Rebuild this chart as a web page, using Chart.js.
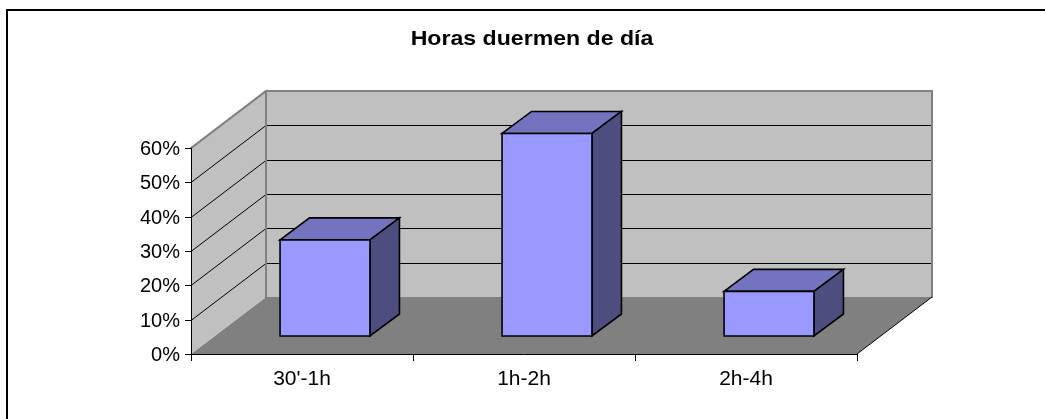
<!DOCTYPE html>
<html>
<head>
<meta charset="utf-8">
<script src="https://cdn.jsdelivr.net/npm/chart.js@4/dist/chart.umd.min.js"></script>
<style>
  html, body { margin: 0; padding: 0; background: #fff; }
  canvas { display: block; }
</style>
</head>
<body>
<canvas id="chart" width="1045" height="419"></canvas>
<script>
// data
const titleText = 'Horas duermen de día';
const categories = ["30'-1h", '1h-2h', '2h-4h'];
const values = [0.28, 0.59, 0.13];
const yTickValues = [0, 0.1, 0.2, 0.3, 0.4, 0.5, 0.6];

// 3D look (oblique projection offsets)
const WALL_DX = 75, WALL_DY = 57;   // depth of the floor / walls
const BAR_OX = 23, BAR_OY = 18;     // front face of bars sits this far back
const BAR_DX = 29.5, BAR_DY = 22;   // depth of each bar

const FONT = '"Liberation Sans", Arial, sans-serif';

function poly(ctx, pts, fill, stroke, lw) {
    ctx.beginPath();
    ctx.moveTo(pts[0][0], pts[0][1]);
    for (let i = 1; i < pts.length; i++) ctx.lineTo(pts[i][0], pts[i][1]);
    ctx.closePath();
    if (fill) { ctx.fillStyle = fill; ctx.fill(); }
    if (stroke) { ctx.strokeStyle = stroke; ctx.lineWidth = lw || 1; ctx.lineJoin = 'miter'; ctx.stroke(); }
}

function line(ctx, x1, y1, x2, y2, color, lw) {
    ctx.beginPath();
    ctx.moveTo(x1, y1);
    ctx.lineTo(x2, y2);
    ctx.strokeStyle = color;
    ctx.lineWidth = lw || 1;
    ctx.stroke();
}

function text(ctx, str, x, y, align, font, sx) {
    ctx.save();
    ctx.translate(x, y);
    ctx.scale(sx || 1, 1);
    ctx.font = font;
    ctx.fillStyle = '#000';
    ctx.textAlign = align;
    ctx.textBaseline = 'middle';
    ctx.fillText(str, 0, 0);
    ctx.restore();
}

const box3d = {
    id: 'box3d',
    beforeDatasetsDraw(chart) {
        const ctx = chart.ctx;
        const a = chart.chartArea;
        const y = chart.scales.y;
        const x = chart.scales.x;
        const L = a.left, R = a.right, T = a.top, B = a.bottom;

        ctx.save();
        // outer frame (only top/left show in the window)
        line(ctx, 7, 10, 1045, 10, '#000', 2);
        line(ctx, 7, 9, 7, 419, '#000', 2);

        // title
        text(ctx, titleText, 532, 39, 'center', 'bold 21px ' + FONT, 1.1);

        // floor
        poly(ctx, [[L, B], [L + WALL_DX, B - WALL_DY], [R + WALL_DX, B - WALL_DY], [R, B]], '#808080');
        // left wall
        poly(ctx, [[L, B], [L, T], [L + WALL_DX, T - WALL_DY], [L + WALL_DX, B - WALL_DY]], '#C0C0C0');
        // back wall
        poly(ctx, [[L + WALL_DX, T - WALL_DY], [R + WALL_DX, T - WALL_DY], [R + WALL_DX, B - WALL_DY], [L + WALL_DX, B - WALL_DY]], '#C0C0C0');

        // gridlines on both walls
        yTickValues.forEach(v => {
            if (v === 0 || v === yTickValues[yTickValues.length - 1]) return;
            const py = Math.round(y.getPixelForValue(v)) + 0.5;
            line(ctx, L, py, L + WALL_DX, py - WALL_DY, '#000', 1);
            line(ctx, L + WALL_DX, py - WALL_DY, R + WALL_DX, py - WALL_DY, '#000', 1);
        });

        // wall edges
        ctx.lineCap = 'square';
        line(ctx, L, T, L + WALL_DX, T - WALL_DY, '#808080', 2);
        line(ctx, L + WALL_DX, T - WALL_DY, R + WALL_DX, T - WALL_DY, '#808080', 2);
        line(ctx, L + WALL_DX, T - WALL_DY, L + WALL_DX, B - WALL_DY, '#808080', 2);
        line(ctx, R + WALL_DX, T - WALL_DY, R + WALL_DX, B - WALL_DY, '#808080', 2);
        ctx.lineCap = 'butt';

        // floor right edge
        line(ctx, R, B, R + WALL_DX, B - WALL_DY, '#000', 1);

        // axes
        line(ctx, L + 0.5, T, L + 0.5, B + 1, '#000', 1);
        line(ctx, L, B + 0.5, R + 1, B + 0.5, '#000', 1);

        // y ticks and labels
        yTickValues.forEach(v => {
            const py = Math.round(y.getPixelForValue(v)) + 0.5;
            line(ctx, L - 6, py, L, py, '#000', 1);
            text(ctx, Math.round(v * 100) + '%', L - 11, py + 1, 'right', '20px ' + FONT, 1);
        });

        // x ticks (category boundaries) and labels
        const step = (R - L) / categories.length;
        for (let i = 0; i <= categories.length; i++) {
            const px = Math.round(L + step * i) + 0.5;
            line(ctx, px, B, px, B + 7, '#000', 1);
        }
        categories.forEach((c, i) => {
            text(ctx, c, x.getPixelForValue(i), 379, 'center', '20px ' + FONT, 1.05);
        });
        ctx.restore();
    },
    afterDatasetsDraw(chart) {
        const ctx = chart.ctx;
        const meta = chart.getDatasetMeta(0);
        ctx.save();
        meta.data.forEach(bar => {
            const w = bar.width;
            const l = bar.x - w / 2 + BAR_OX;
            const r = bar.x + w / 2 + BAR_OX;
            const t = bar.y - BAR_OY;
            const b = bar.base - BAR_OY;
            const stroke = '#000';
            // top face
            poly(ctx, [[l, t], [l + BAR_DX, t - BAR_DY], [r + BAR_DX, t - BAR_DY], [r, t]], '#7373BF', stroke, 1.6);
            // side face
            poly(ctx, [[r, t], [r + BAR_DX, t - BAR_DY], [r + BAR_DX, b - BAR_DY], [r, b]], '#4D4D80', stroke, 1.6);
            // front face
            poly(ctx, [[l, t], [r, t], [r, b], [l, b]], '#9999FF', stroke, 1.6);
        });
        ctx.restore();
    }
};

new Chart(document.getElementById('chart'), {
    type: 'bar',
    data: {
        labels: categories,
        datasets: [{
            data: values,
            backgroundColor: 'rgba(0,0,0,0)',
            borderWidth: 0,
            categoryPercentage: 1,
            barPercentage: 0.405
        }]
    },
    options: {
        responsive: false,
        animation: false,
        events: [],
        layout: { padding: { left: 191, right: 188, top: 148, bottom: 65 } },
        plugins: { legend: { display: false }, tooltip: { enabled: false }, title: { display: false } },
        scales: {
            x: { display: false },
            y: { display: false, min: 0, max: 0.6, ticks: { stepSize: 0.1 } }
        }
    },
    plugins: [box3d]
});
</script>
</body>
</html>
